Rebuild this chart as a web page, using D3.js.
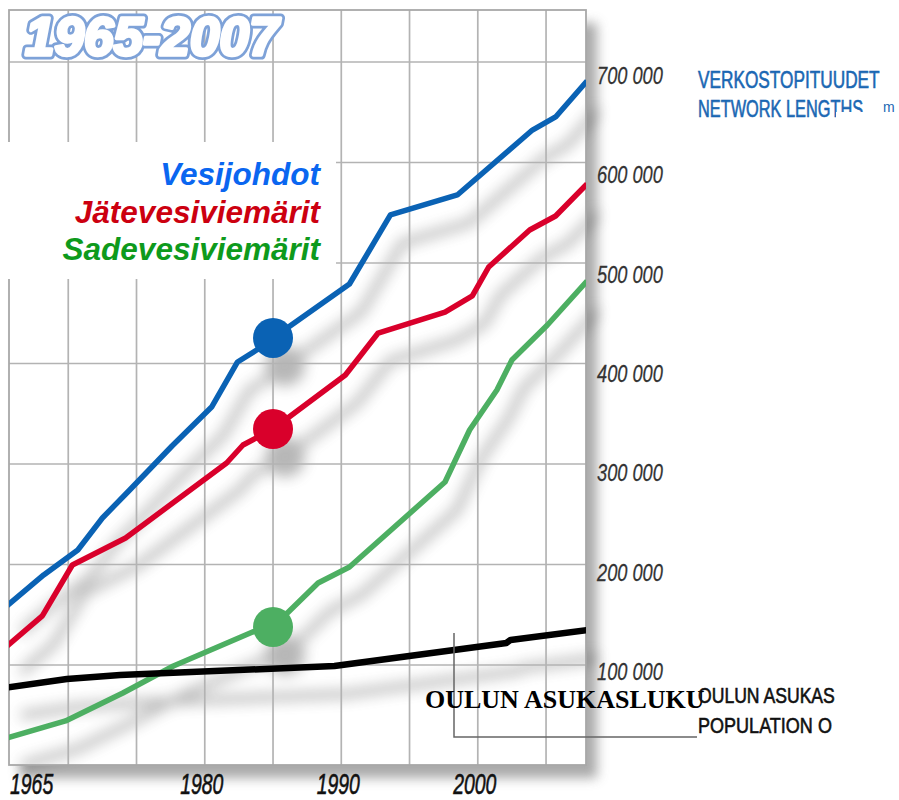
<!DOCTYPE html>
<html><head><meta charset="utf-8">
<script src="https://cdn.jsdelivr.net/npm/d3@7"></script>
<style>
html,body{margin:0;padding:0;background:#fff;}
svg{display:block;}
</style></head><body>
<svg id="chart" width="899" height="800"></svg>
<script>
// ---------- DATA ----------
const titleText = "1965-2007";
const seriesNames = ["Vesijohdot", "Jätevesiviemärit", "Sadevesiviemärit"];

const waterYears  = [1965, 1968.2, 1970.7, 1972.5, 1974.5, 1977.6, 1980.5, 1982.4, 1983.8, 1985, 1990.6, 1993.6, 1998.5, 2004.0, 2005.7, 2008];
const waterValues = [153000, 189600, 214400, 246300, 274100, 317900, 356700, 401500, 413400, 425400, 479100, 547800, 567700, 632300, 645300, 681100];

const sewerYears  = [1965, 1968.1, 1970.3, 1974.2, 1981.6, 1982.8, 1985, 1990.3, 1992.7, 1997.6, 1999.6, 2000.8, 2003.8, 2005.7, 2008];
const sewerValues = [112900, 148800, 199500, 226400, 301000, 318900, 334800, 388600, 430300, 451200, 467200, 496000, 532800, 546800, 578600];

const stormYears  = [1965, 1969.8, 1974.0, 1977.7, 1983.5, 1985, 1988.3, 1990.6, 1997.6, 1999.4, 2001.4, 2002.5, 2005.1, 2008];
const stormValues = [25400, 44300, 72100, 99000, 132800, 137800, 181600, 197500, 282100, 333800, 373600, 403500, 438300, 482100];

const popYears  = [1965, 1969.9, 1973.8, 1989.5, 2002.1, 2002.4, 2008];
const popValues = [76600, 86100, 90000, 99000, 121900, 124900, 134800];

const markerYear = 1985;

const yTicks = [100000, 200000, 300000, 400000, 500000, 600000, 700000];
const yTickLabels = ["100 000", "200 000", "300 000", "400 000", "500 000", "600 000", "700 000"];
const gridYears = [1970, 1975, 1980, 1985, 1990, 1995, 2000, 2005];
const xLabelYears = [1965, 1980, 1990, 2000];
const xLabels = ["1965", "1980", "1990", "2000"];

const unitTitle = ["VERKOSTOPITUUDET", "NETWORK LENGTHS"];
const unitText = "m";
const popTitle = ["OULUN ASUKAS", "POPULATION O"];
const popLabel = "OULUN ASUKASLUKU";

// ---------- SETUP ----------
const svg = d3.select("#chart");
const plot = {left: 9, right: 586, top: 10, bottom: 765};
const x = d3.scaleLinear().domain([1965, 2008]).range([0, 587]);
const y = d3.scaleLinear().domain([0, 700000]).range([765.5, 62]);

const seriesData = [
  {years: waterYears, values: waterValues, color: "#0a62b4", width: 5.5},
  {years: sewerYears, values: sewerValues, color: "#d9002b", width: 5.5},
  {years: stormYears, values: stormValues, color: "#4daf62", width: 5.5},
  {years: popYears, values: popValues, color: "#000000", width: 6.5}
].map(s => ({...s, points: s.years.map((yr, i) => [yr, s.values[i]])}));

const legendColors = ["#0a66f0", "#cc0010", "#0e9a1c"];
const sans = "'Liberation Sans', Arial, sans-serif";

const defs = svg.append("defs");
defs.append("clipPath").attr("id", "plotClip").append("rect")
  .attr("x", plot.left).attr("y", plot.top)
  .attr("width", plot.right - plot.left).attr("height", plot.bottom - plot.top);

const fP = defs.append("filter").attr("id", "blurPlot").attr("filterUnits", "userSpaceOnUse")
  .attr("x", -50).attr("y", -50).attr("width", 1000).attr("height", 900);
fP.append("feGaussianBlur").attr("stdDeviation", 6);
const fL = defs.append("filter").attr("id", "blurLine").attr("filterUnits", "userSpaceOnUse")
  .attr("x", -50).attr("y", -50).attr("width", 1000).attr("height", 900);
fL.append("feGaussianBlur").attr("stdDeviation", 7);

// plot shadow
svg.append("rect")
  .attr("x", plot.left).attr("y", plot.top)
  .attr("width", plot.right - plot.left).attr("height", plot.bottom - plot.top)
  .attr("fill", "#8c8c8c").attr("opacity", 0.75)
  .attr("transform", "translate(11,13)")
  .attr("filter", "url(#blurPlot)");
svg.append("rect")
  .attr("x", plot.left).attr("y", plot.top)
  .attr("width", plot.right - plot.left).attr("height", plot.bottom - plot.top)
  .attr("fill", "#fff");

const line = d3.line().x(d => x(d[0])).y(d => y(d[1]));

// line shadows
const sh = svg.append("g").attr("transform", "translate(12,28)")
  .attr("filter", "url(#blurLine)").attr("opacity", 0.42);
const shIn = sh.append("g").attr("clip-path", "url(#plotClip)");
shIn.selectAll("path").data(seriesData).join("path")
  .attr("d", d => line(d.points)).attr("fill", "none")
  .attr("stroke", "#555").attr("stroke-width", 8);
shIn.selectAll("circle").data(seriesData.slice(0, 3)).join("circle")
  .attr("cx", x(markerYear))
  .attr("cy", d => y(d.values[d.years.indexOf(markerYear)]))
  .attr("r", 20).attr("fill", "#555");

// grid
const grid = svg.append("g").attr("stroke", "#b3b3b3").attr("stroke-width", 1.7);
grid.selectAll("line.v").data(gridYears).join("line").attr("class", "v")
  .attr("x1", d => x(d)).attr("x2", d => x(d))
  .attr("y1", plot.top).attr("y2", plot.bottom);
grid.selectAll("line.h").data(yTicks).join("line").attr("class", "h")
  .attr("x1", plot.left).attr("x2", plot.right)
  .attr("y1", d => y(d)).attr("y2", d => y(d));
svg.append("rect")
  .attr("x", plot.left).attr("y", plot.top)
  .attr("width", plot.right - plot.left).attr("height", plot.bottom - plot.top)
  .attr("fill", "none").attr("stroke", "#a8a8a8").attr("stroke-width", 1.8);

// lines
const lg = svg.append("g").attr("clip-path", "url(#plotClip)");
lg.selectAll("path").data(seriesData).join("path")
  .attr("d", d => line(d.points)).attr("fill", "none")
  .attr("stroke", d => d.color).attr("stroke-width", d => d.width)
  .attr("stroke-linejoin", "round");
lg.selectAll("circle").data(seriesData.slice(0, 3)).join("circle")
  .attr("cx", x(markerYear))
  .attr("cy", d => y(d.values[d.years.indexOf(markerYear)]))
  .attr("r", 20).attr("fill", d => d.color);

// legend box
svg.append("rect").attr("x", 0).attr("y", 142).attr("width", 336).attr("height", 137).attr("fill", "#fff");
svg.append("g").selectAll("text").data(seriesNames).join("text")
  .attr("x", 320).attr("y", (d, i) => 185 + i * 37.5)
  .attr("text-anchor", "end")
  .attr("font-family", sans)
  .attr("font-weight", "bold").attr("font-style", "italic").attr("font-size", 31.5)
  .attr("fill", (d, i) => legendColors[i])
  .text(d => d);

// title (outlined, heavy)
const titleG = svg.append("g").attr("font-family", sans)
  .attr("font-weight", "bold").attr("font-style", "italic").attr("font-size", 53);
titleG.append("text").attr("x", 25).attr("y", 55)
  .attr("fill", "#7ea2d8").attr("stroke", "#7ea2d8").attr("stroke-width", 9)
  .attr("stroke-linejoin", "round").text(titleText);
titleG.append("text").attr("x", 25).attr("y", 55)
  .attr("fill", "#fff").attr("stroke", "#fff").attr("stroke-width", 3.5)
  .attr("stroke-linejoin", "round").text(titleText);

// helper for condensed text
function condensedText(g, px, py, sx) {
  return g.attr("transform", `translate(${px},${py}) scale(${sx},1)`);
}

// y labels (label baseline offset grows slightly toward the top, as in the original)
const labelOffset = d3.scaleLinear().domain([100000, 700000]).range([15, 22]);
svg.append("g").selectAll("text").data(yTicks).join("text")
  .each(function(d) { condensedText(d3.select(this), 597, y(d) + labelOffset(d), 0.76); })
  .attr("font-family", sans).attr("font-style", "italic").attr("font-size", 24)
  .attr("fill", "#333").attr("stroke", "#333").attr("stroke-width", 0.3)
  .text((d, i) => yTickLabels[i]);

// x labels
svg.append("g").selectAll("text").data(xLabelYears).join("text")
  .each(function(d) {
    const first = d === x.domain()[0];
    condensedText(d3.select(this), first ? 10 : x(d) - 3, 794, 0.67);
  })
  .attr("text-anchor", d => d === x.domain()[0] ? "start" : "middle")
  .attr("font-family", sans).attr("font-style", "italic").attr("font-size", 29)
  .attr("fill", "#111").attr("stroke", "#111").attr("stroke-width", 0.6)
  .text((d, i) => xLabels[i]);

// unit title
const unitScale = [0.75, 0.71];
svg.append("g").selectAll("text").data(unitTitle).join("text")
  .each(function(d, i) { condensedText(d3.select(this), 698, 88 + i * 29, unitScale[i]); })
  .attr("font-family", sans).attr("font-size", 23)
  .attr("fill", "#1a67b3").attr("stroke", "#1a67b3").attr("stroke-width", 0.6)
  .text(d => d);
svg.append("rect").attr("x", 836).attr("y", 112).attr("width", 63).attr("height", 20).attr("fill", "#fff");
svg.append("text").attr("x", 883).attr("y", 112)
  .attr("font-family", sans).attr("font-size", 14)
  .attr("fill", "#1a67b3").text(unitText);

// population callout
svg.append("path")
  .attr("d", d3.line()([[454, 633], [454, 737], [697, 737]]))
  .attr("fill", "none").attr("stroke", "#666").attr("stroke-width", 1.5);
svg.append("text").attr("x", 425).attr("y", 708)
  .attr("font-family", "'Liberation Serif', 'Times New Roman', serif")
  .attr("font-weight", "bold").attr("font-size", 26).attr("fill", "#000")
  .text(popLabel);
const popScale = [0.8, 0.82];
svg.append("g").selectAll("text").data(popTitle).join("text")
  .each(function(d, i) { condensedText(d3.select(this), 698, 703 + i * 30, popScale[i]); })
  .attr("font-family", sans).attr("font-size", 22)
  .attr("fill", "#111").attr("stroke", "#111").attr("stroke-width", 0.6)
  .text(d => d);
</script>
</body></html>
